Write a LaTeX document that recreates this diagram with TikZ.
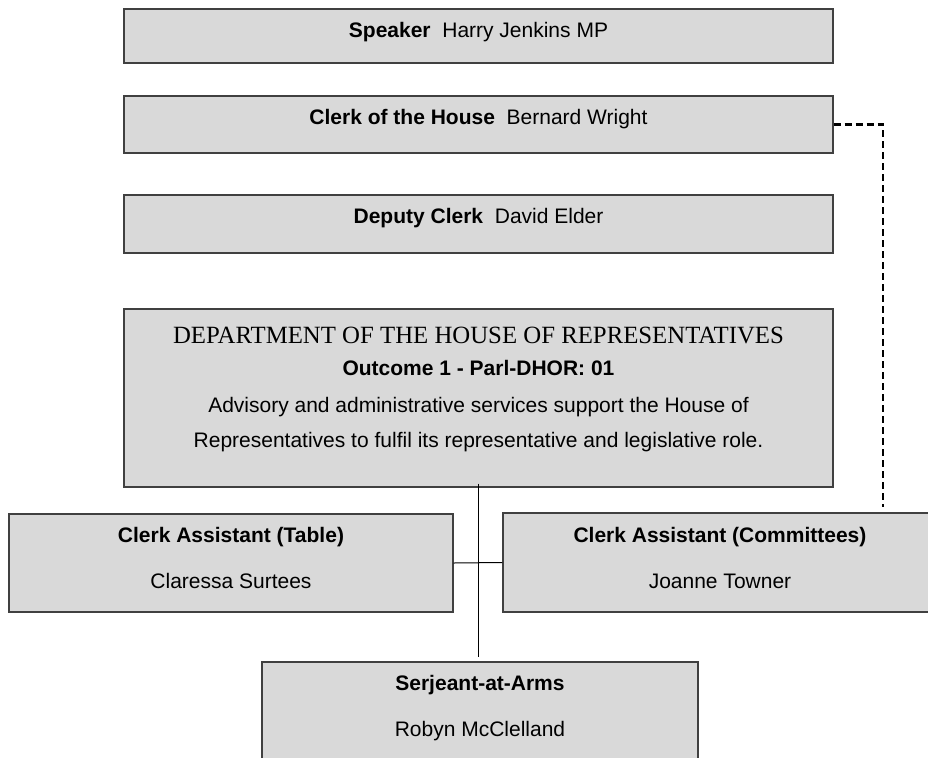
\documentclass[tikz,border=0pt]{standalone}
\usepackage{fontspec}
\setmainfont{Liberation Sans}
\newfontfamily\deptfont{Liberation Serif}
\definecolor{boxfill}{HTML}{D9D9D9}
\definecolor{boxline}{HTML}{404040}
\begin{document}
\begin{tikzpicture}[x=0.5pt,y=-0.5pt,
  box/.style={draw=boxline, fill=boxfill, line width=0.6pt, rectangle, inner sep=0pt},
  txt/.style={inner sep=0pt, anchor=base, font=\fontsize{10.5}{12}\selectfont},
  serif/.style={inner sep=0pt, anchor=base, font=\deptfont\fontsize{12.4}{14}\selectfont},
  link/.style={draw=black, line width=0.5pt},
  dashlink/.style={draw=black, line width=1.3pt, dash pattern=on 3.5pt off 2pt}]
\useasboundingbox (0,0) rectangle (928,757);
\clip (0,0) rectangle (928,757);

% boxes
\node[box, minimum width=354.5pt, minimum height=27pt] (speaker) at (478.5,36) {};
\node[box, minimum width=354.5pt, minimum height=28.5pt] (clerk) at (478.5,124.5) {};
\node[box, minimum width=354.5pt, minimum height=29pt] (deputy) at (478.5,224) {};
\node[box, minimum width=354.5pt, minimum height=89pt] (dept) at (478.5,398) {};
\node[box, minimum width=222pt, minimum height=49pt] (table) at (231,563) {};
\node[box, minimum width=217pt, minimum height=49.5pt] (comm) at (720,562.5) {};
\node[box, minimum width=218pt, minimum height=64pt] (serj) at (480,726) {};

% texts
\node[txt] (speaker-t) at (478.5,37) {\textbf{Speaker}\ \ Harry Jenkins MP};
\node[txt] (clerk-t) at (478.5,124) {\textbf{Clerk of the House}\ \ Bernard Wright};
\node[txt] (deputy-t) at (478.5,223) {\textbf{Deputy Clerk}\ \ David Elder};
\node[serif] (dept-t1) at (478.5,343) {DEPARTMENT OF THE HOUSE OF REPRESENTATIVES};
\node[txt] (dept-t2) at (478.5,375) {\textbf{Outcome 1 - Parl-DHOR: 01}};
\node[txt] (dept-t3) at (478.5,412) {Advisory and administrative services support the House of};
\node[txt] (dept-t4) at (478.5,447) {Representatives to fulfil its representative and legislative role.};
\node[txt] (table-t1) at (231,542) {\textbf{Clerk Assistant (Table)}};
\node[txt] (table-t2) at (231,588) {Claressa Surtees};
\node[txt] (comm-t1) at (720,542) {\textbf{Clerk Assistant (Committees)}};
\node[txt] (comm-t2) at (720,588) {Joanne Towner};
\node[txt] (serj-t1) at (480,690) {\textbf{Serjeant-at-Arms}};
\node[txt] (serj-t2) at (480,736) {Robyn McClelland};

% connectors
\draw[link] ([yshift=2pt]dept.south) -- ([yshift=2pt]dept.south |- serj.north);
\draw[link] (table.east) -- (comm.west);
\coordinate (dashend) at (883,507);
\draw[dashlink] (clerk.east) -| (dashend);
\end{tikzpicture}
\end{document}
